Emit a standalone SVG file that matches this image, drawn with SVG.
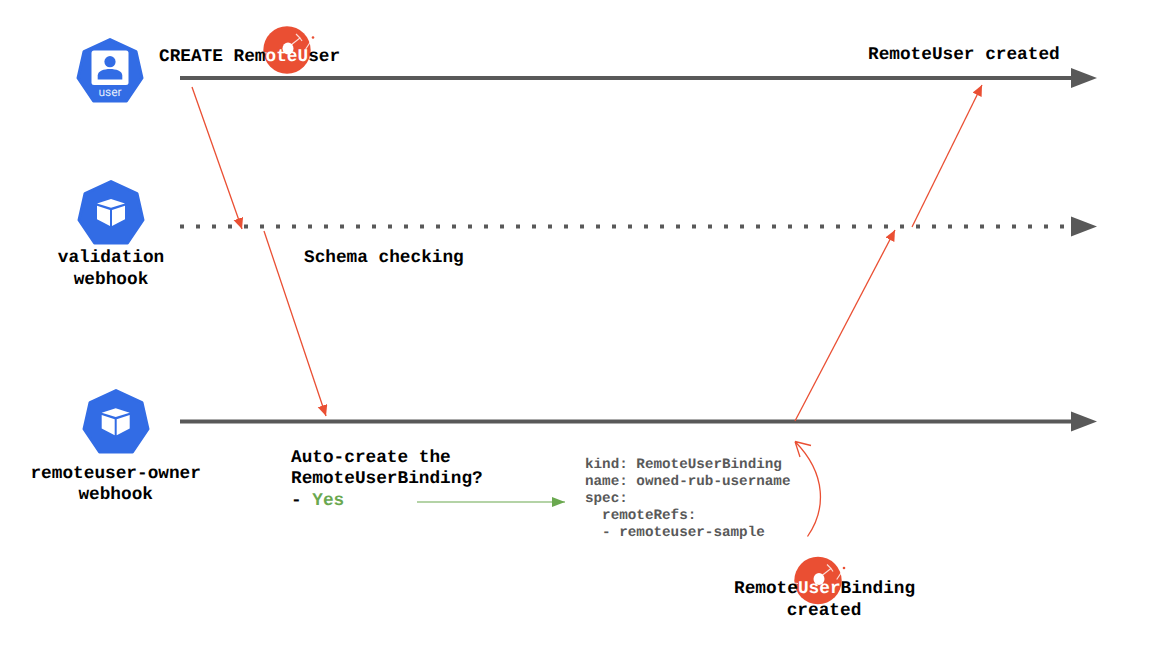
<svg xmlns="http://www.w3.org/2000/svg" width="1149" height="649" viewBox="0 0 1149 649">
<style>
text{font-family:"Liberation Mono",monospace;font-weight:700;text-rendering:geometricPrecision}
.l{font-size:17.75px;fill:#000}
.m{text-anchor:middle}
.c{font-size:14.27px;fill:#595959}
.w{fill:#fff}
.tl{stroke:#595959;stroke-width:4;fill:none}
.r{stroke:#ea4f33;stroke-width:1.3;fill:none}
.bl{fill:#326ce5}
</style>
<defs>
<marker id="ra" markerUnits="userSpaceOnUse" markerWidth="12" markerHeight="12" refX="11" refY="5" orient="auto"><path d="M0 0L11 5L0 10Z" fill="#ea4f33"/></marker>
<marker id="ga" markerUnits="userSpaceOnUse" markerWidth="14" markerHeight="12" refX="13" refY="5" orient="auto"><path d="M0 0L13 5L0 10Z" fill="#6aa84f"/></marker>
<path id="hept" d="M0 1.500L26 13.500L32 40L16.500 63H-16.500L-32 40L-26 13.500Z" fill="#326ce5" stroke="#326ce5" stroke-width="3" stroke-linejoin="round"/>
<g id="cube"><path d="M0-13.500L14-9L0-4.800L-14-9Z" fill="#fff"/><path d="M-14-6.800L-1-2.500V13.500L-14 6.800Z" fill="#fff"/><path d="M14-6.800L1-2.500V13.500L14 6.800Z" fill="#fff"/></g>
<g id="logo"><circle r="23.700" fill="#ea4f33"/><ellipse cx="1" cy="-1.500" rx="5.500" ry="6" fill="#fff"/><path d="M4-5L13-12L9-16M13-12L15-9M18.700-1L26-12M-29 2L-20 3" stroke="#fff" stroke-width="1.200" fill="none" opacity=".8"/><circle cx="26" cy="-12.500" r="1.300" fill="#ea4f33"/></g>
<path id="head" d="M0-10L26 0L0 10Z" fill="#595959"/>
</defs>
<g id="connectors">
<path class="tl" d="M180 78H1072"/>
<use href="#head" x="1071" y="78"/>
<path class="tl" d="M180 226.500H1072" stroke-dasharray="4 12"/>
<use href="#head" x="1071" y="226.500"/>
<path class="tl" d="M180 421.500H1072"/>
<use href="#head" x="1071" y="421.500"/>
<path class="r" d="M192 87L242 229" marker-end="url(#ra)"/>
<path class="r" d="M264 231L326 416" marker-end="url(#ra)"/>
<path class="r" d="M795 421L895 230" marker-end="url(#ra)"/>
<path class="r" d="M912 227L982 85" marker-end="url(#ra)"/>
<path d="M417 502H565" stroke="#6aa84f" stroke-width="1.200" fill="none" marker-end="url(#ga)"/>
<path class="r" d="M807.500 536.500C826 510 827 474 795 441.500M795 441.500L811 445.500M795 441.500L800 457"/>
</g>
<g id="logo-remoteuser"><use href="#logo" x="287" y="50"/></g>
<g id="logo-binding"><use href="#logo" x="818" y="580.500"/></g>
<g id="user">
<use href="#hept" x="110" y="38"/>
<rect x="91.500" y="50.500" width="37" height="34.500" rx="2.500" fill="#fff"/>
<circle cx="110" cy="61.700" r="5.600" class="bl"/>
<path class="bl" d="M97.700 79.500V75.500C97.700 71 104 69 110 69C116 69 122.300 71 122.300 75.500V79.500Z"/>
<text x="110" y="96" class="m" style="font-family:Roboto,sans-serif;font-weight:400;font-size:12px;fill:#e4ecfc">user</text>
</g>
<g id="validation-webhook">
<use href="#hept" x="111" y="180"/>
<use href="#cube" x="111" y="212.500"/>
<text class="l m" x="111" y="262.200">validation</text>
<text class="l m" x="111" y="284.200">webhook</text>
</g>
<g id="remoteuser-owner-webhook">
<use href="#hept" x="116" y="389"/>
<use href="#cube" x="115.700" y="421.700"/>
<text class="l m" x="115.700" y="478.200">remoteuser-owner</text>
<text class="l m" x="115.700" y="499.200">webhook</text>
</g>
<g id="labels">
<text class="l" x="159" y="61.200">CREATE Rem<tspan class="w">oteU</tspan>ser</text>
<text class="l" x="868" y="59.200">RemoteUser created</text>
<text class="l" x="304" y="262.200">Schema checking</text>
<text class="l" x="291" y="462.200">Auto-create the</text>
<text class="l" x="291" y="483.200">RemoteUserBinding?</text>
<text class="l" x="291" y="505.200">- <tspan style="fill:#6aa84f">Yes</tspan></text>
<text class="c" x="585" y="468">kind: RemoteUserBinding</text>
<text class="c" x="585" y="485">name: owned-rub-username</text>
<text class="c" x="585" y="502">spec:</text>
<text class="c" x="602.100" y="519">remoteRefs:</text>
<text class="c" x="602.100" y="536">- remoteuser-sample</text>
<text class="l" x="734" y="593.200">Remote<tspan class="w">User</tspan>Binding</text>
<text class="l m" x="824" y="615.200">created</text>
</g>
</svg>
